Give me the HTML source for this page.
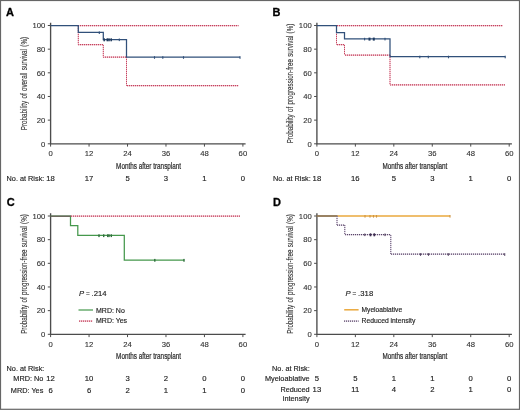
<!DOCTYPE html>
<html><head><meta charset="utf-8"><title>Figure</title>
<style>html,body{margin:0;padding:0;background:#fff;width:520px;height:410px;overflow:hidden}svg{display:block;will-change:transform}</style>
</head><body>
<svg width="520" height="410" viewBox="0 0 520 410">
<style>text{font-family:"Liberation Sans",sans-serif;fill:#222;stroke:#222;stroke-width:0.15px}.tk{font-size:7.7px;fill:#303030;stroke:#303030;stroke-width:0.1px}.ttl{font-size:8.9px;stroke-width:0.24px;fill:#2e2e2e;stroke:#2e2e2e}.yt{font-size:8.9px;stroke-width:0.12px;fill:#333;stroke:#333;word-spacing:0.8px}.lt{font-size:11px;font-weight:bold;fill:#000;stroke:#000;stroke-width:0.3px}.rk{font-size:7.3px}.rn{font-size:7.7px}.lg{font-size:7px}.pv{font-size:7.7px}</style>
<rect x="0" y="0" width="520" height="410" fill="#fff"/>
<rect x="0.5" y="0.5" width="519" height="408.8" fill="none" stroke="#666" stroke-width="1.2"/>
<text x="6.1" y="15.8" class="lt">A</text>
<text x="272.6" y="15.8" class="lt">B</text>
<text x="6.7" y="206.1" class="lt">C</text>
<text x="272.9" y="206.1" class="lt">D</text>
<g transform="translate(0,0)">
<path d="M50.6,22.8 V143.8 H245.6" fill="none" stroke="#4c4c4c" stroke-width="1.35"/>
<path d="M47.8,143.80 H50.6" stroke="#4c4c4c" stroke-width="1"/>
<text x="45.4" y="146.50" text-anchor="end" class="tk">0</text>
<path d="M47.8,120.14 H50.6" stroke="#4c4c4c" stroke-width="1"/>
<text x="45.4" y="122.84" text-anchor="end" class="tk">20</text>
<path d="M47.8,96.48 H50.6" stroke="#4c4c4c" stroke-width="1"/>
<text x="45.4" y="99.18" text-anchor="end" class="tk">40</text>
<path d="M47.8,72.82 H50.6" stroke="#4c4c4c" stroke-width="1"/>
<text x="45.4" y="75.52" text-anchor="end" class="tk">60</text>
<path d="M47.8,49.16 H50.6" stroke="#4c4c4c" stroke-width="1"/>
<text x="45.4" y="51.86" text-anchor="end" class="tk">80</text>
<path d="M47.8,25.50 H50.6" stroke="#4c4c4c" stroke-width="1"/>
<text x="45.4" y="28.20" text-anchor="end" class="tk">100</text>
<path d="M50.60,143.8 V146.6" stroke="#4c4c4c" stroke-width="1"/>
<text x="50.60" y="156.4" text-anchor="middle" class="tk">0</text>
<path d="M89.06,143.8 V146.6" stroke="#4c4c4c" stroke-width="1"/>
<text x="89.06" y="156.4" text-anchor="middle" class="tk">12</text>
<path d="M127.52,143.8 V146.6" stroke="#4c4c4c" stroke-width="1"/>
<text x="127.52" y="156.4" text-anchor="middle" class="tk">24</text>
<path d="M165.98,143.8 V146.6" stroke="#4c4c4c" stroke-width="1"/>
<text x="165.98" y="156.4" text-anchor="middle" class="tk">36</text>
<path d="M204.44,143.8 V146.6" stroke="#4c4c4c" stroke-width="1"/>
<text x="204.44" y="156.4" text-anchor="middle" class="tk">48</text>
<path d="M242.90,143.8 V146.6" stroke="#4c4c4c" stroke-width="1"/>
<text x="242.90" y="156.4" text-anchor="middle" class="tk">60</text>
<text x="148.6" y="168.8" text-anchor="middle" class="ttl" textLength="65" lengthAdjust="spacingAndGlyphs">Months after transplant</text>
<text transform="translate(26.8,83.55) rotate(-90)" x="0" y="0" text-anchor="middle" class="yt" textLength="93.2" lengthAdjust="spacingAndGlyphs">Probability of overall survival (%)</text>
</g>
<g transform="translate(266.3,0)">
<path d="M50.6,22.8 V143.8 H245.6" fill="none" stroke="#4c4c4c" stroke-width="1.35"/>
<path d="M47.8,143.80 H50.6" stroke="#4c4c4c" stroke-width="1"/>
<text x="45.4" y="146.50" text-anchor="end" class="tk">0</text>
<path d="M47.8,120.14 H50.6" stroke="#4c4c4c" stroke-width="1"/>
<text x="45.4" y="122.84" text-anchor="end" class="tk">20</text>
<path d="M47.8,96.48 H50.6" stroke="#4c4c4c" stroke-width="1"/>
<text x="45.4" y="99.18" text-anchor="end" class="tk">40</text>
<path d="M47.8,72.82 H50.6" stroke="#4c4c4c" stroke-width="1"/>
<text x="45.4" y="75.52" text-anchor="end" class="tk">60</text>
<path d="M47.8,49.16 H50.6" stroke="#4c4c4c" stroke-width="1"/>
<text x="45.4" y="51.86" text-anchor="end" class="tk">80</text>
<path d="M47.8,25.50 H50.6" stroke="#4c4c4c" stroke-width="1"/>
<text x="45.4" y="28.20" text-anchor="end" class="tk">100</text>
<path d="M50.60,143.8 V146.6" stroke="#4c4c4c" stroke-width="1"/>
<text x="50.60" y="156.4" text-anchor="middle" class="tk">0</text>
<path d="M89.06,143.8 V146.6" stroke="#4c4c4c" stroke-width="1"/>
<text x="89.06" y="156.4" text-anchor="middle" class="tk">12</text>
<path d="M127.52,143.8 V146.6" stroke="#4c4c4c" stroke-width="1"/>
<text x="127.52" y="156.4" text-anchor="middle" class="tk">24</text>
<path d="M165.98,143.8 V146.6" stroke="#4c4c4c" stroke-width="1"/>
<text x="165.98" y="156.4" text-anchor="middle" class="tk">36</text>
<path d="M204.44,143.8 V146.6" stroke="#4c4c4c" stroke-width="1"/>
<text x="204.44" y="156.4" text-anchor="middle" class="tk">48</text>
<path d="M242.90,143.8 V146.6" stroke="#4c4c4c" stroke-width="1"/>
<text x="242.90" y="156.4" text-anchor="middle" class="tk">60</text>
<text x="148.6" y="168.8" text-anchor="middle" class="ttl" textLength="65" lengthAdjust="spacingAndGlyphs">Months after transplant</text>
<text transform="translate(26.8,83.55) rotate(-90)" x="0" y="0" text-anchor="middle" class="yt" textLength="119.6" lengthAdjust="spacingAndGlyphs">Probability of progression-free survival (%)</text>
</g>
<g transform="translate(0,190.5)">
<path d="M50.6,22.8 V143.8 H245.6" fill="none" stroke="#4c4c4c" stroke-width="1.35"/>
<path d="M47.8,143.80 H50.6" stroke="#4c4c4c" stroke-width="1"/>
<text x="45.4" y="146.50" text-anchor="end" class="tk">0</text>
<path d="M47.8,120.14 H50.6" stroke="#4c4c4c" stroke-width="1"/>
<text x="45.4" y="122.84" text-anchor="end" class="tk">20</text>
<path d="M47.8,96.48 H50.6" stroke="#4c4c4c" stroke-width="1"/>
<text x="45.4" y="99.18" text-anchor="end" class="tk">40</text>
<path d="M47.8,72.82 H50.6" stroke="#4c4c4c" stroke-width="1"/>
<text x="45.4" y="75.52" text-anchor="end" class="tk">60</text>
<path d="M47.8,49.16 H50.6" stroke="#4c4c4c" stroke-width="1"/>
<text x="45.4" y="51.86" text-anchor="end" class="tk">80</text>
<path d="M47.8,25.50 H50.6" stroke="#4c4c4c" stroke-width="1"/>
<text x="45.4" y="28.20" text-anchor="end" class="tk">100</text>
<path d="M50.60,143.8 V146.6" stroke="#4c4c4c" stroke-width="1"/>
<text x="50.60" y="156.4" text-anchor="middle" class="tk">0</text>
<path d="M89.06,143.8 V146.6" stroke="#4c4c4c" stroke-width="1"/>
<text x="89.06" y="156.4" text-anchor="middle" class="tk">12</text>
<path d="M127.52,143.8 V146.6" stroke="#4c4c4c" stroke-width="1"/>
<text x="127.52" y="156.4" text-anchor="middle" class="tk">24</text>
<path d="M165.98,143.8 V146.6" stroke="#4c4c4c" stroke-width="1"/>
<text x="165.98" y="156.4" text-anchor="middle" class="tk">36</text>
<path d="M204.44,143.8 V146.6" stroke="#4c4c4c" stroke-width="1"/>
<text x="204.44" y="156.4" text-anchor="middle" class="tk">48</text>
<path d="M242.90,143.8 V146.6" stroke="#4c4c4c" stroke-width="1"/>
<text x="242.90" y="156.4" text-anchor="middle" class="tk">60</text>
<text x="148.6" y="168.8" text-anchor="middle" class="ttl" textLength="65" lengthAdjust="spacingAndGlyphs">Months after transplant</text>
<text transform="translate(26.8,83.55) rotate(-90)" x="0" y="0" text-anchor="middle" class="yt" textLength="119.6" lengthAdjust="spacingAndGlyphs">Probability of progression-free survival (%)</text>
</g>
<g transform="translate(266.3,190.5)">
<path d="M50.6,22.8 V143.8 H245.6" fill="none" stroke="#4c4c4c" stroke-width="1.35"/>
<path d="M47.8,143.80 H50.6" stroke="#4c4c4c" stroke-width="1"/>
<text x="45.4" y="146.50" text-anchor="end" class="tk">0</text>
<path d="M47.8,120.14 H50.6" stroke="#4c4c4c" stroke-width="1"/>
<text x="45.4" y="122.84" text-anchor="end" class="tk">20</text>
<path d="M47.8,96.48 H50.6" stroke="#4c4c4c" stroke-width="1"/>
<text x="45.4" y="99.18" text-anchor="end" class="tk">40</text>
<path d="M47.8,72.82 H50.6" stroke="#4c4c4c" stroke-width="1"/>
<text x="45.4" y="75.52" text-anchor="end" class="tk">60</text>
<path d="M47.8,49.16 H50.6" stroke="#4c4c4c" stroke-width="1"/>
<text x="45.4" y="51.86" text-anchor="end" class="tk">80</text>
<path d="M47.8,25.50 H50.6" stroke="#4c4c4c" stroke-width="1"/>
<text x="45.4" y="28.20" text-anchor="end" class="tk">100</text>
<path d="M50.60,143.8 V146.6" stroke="#4c4c4c" stroke-width="1"/>
<text x="50.60" y="156.4" text-anchor="middle" class="tk">0</text>
<path d="M89.06,143.8 V146.6" stroke="#4c4c4c" stroke-width="1"/>
<text x="89.06" y="156.4" text-anchor="middle" class="tk">12</text>
<path d="M127.52,143.8 V146.6" stroke="#4c4c4c" stroke-width="1"/>
<text x="127.52" y="156.4" text-anchor="middle" class="tk">24</text>
<path d="M165.98,143.8 V146.6" stroke="#4c4c4c" stroke-width="1"/>
<text x="165.98" y="156.4" text-anchor="middle" class="tk">36</text>
<path d="M204.44,143.8 V146.6" stroke="#4c4c4c" stroke-width="1"/>
<text x="204.44" y="156.4" text-anchor="middle" class="tk">48</text>
<path d="M242.90,143.8 V146.6" stroke="#4c4c4c" stroke-width="1"/>
<text x="242.90" y="156.4" text-anchor="middle" class="tk">60</text>
<text x="148.6" y="168.8" text-anchor="middle" class="ttl" textLength="65" lengthAdjust="spacingAndGlyphs">Months after transplant</text>
<text transform="translate(26.8,83.55) rotate(-90)" x="0" y="0" text-anchor="middle" class="yt" textLength="119.6" lengthAdjust="spacingAndGlyphs">Probability of progression-free survival (%)</text>
</g>
<path d="M78,25.6 H238.5" fill="none" stroke="#efb6c3" stroke-width="1.25"/><path d="M78,25.6 H238.5" fill="none" stroke="#c03e5a" stroke-width="1.25" stroke-dasharray="0.95 1.05"/>
<path d="M78,44.5 H103.3 M103,57.2 H126.5 M127,85.7 H238.5" fill="none" stroke="#efb6c3" stroke-width="1.25"/><path d="M78,44.5 H103.3 M103,57.2 H126.5 M127,85.7 H238.5" fill="none" stroke="#c03e5a" stroke-width="1.25" stroke-dasharray="0.95 1.05"/><path d="M78.3,26 V44.5 M103.3,45 V57.2 M126.5,57 V85.7" fill="none" stroke="#efb6c3" stroke-width="1.0"/><path d="M78.3,26 V44.5 M103.3,45 V57.2 M126.5,57 V85.7" fill="none" stroke="#c03e5a" stroke-width="1.0" stroke-dasharray="0.95 1.05"/>
<path d="M50.6,25.6 H78.3 V32.4 H103.3 V39.5 H126.5 V57.2 H240" fill="none" stroke="#31507a" stroke-width="1.25"/>
<rect x="98.75" y="31.40" width="1.1" height="2.6" fill="#31507a"/>
<rect x="118.75" y="38.50" width="1.1" height="2.6" fill="#31507a"/>
<rect x="153.95" y="56.20" width="1.1" height="2.6" fill="#31507a"/>
<rect x="162.25" y="56.20" width="1.1" height="2.6" fill="#31507a"/>
<rect x="182.95" y="56.20" width="1.1" height="2.6" fill="#31507a"/>
<rect x="239.45" y="56.20" width="1.1" height="2.6" fill="#31507a"/>
<rect x="103.45" y="38.30" width="1.5" height="3" fill="#1f3a5c"/>
<rect x="106.55" y="38.30" width="1.5" height="3" fill="#1f3a5c"/>
<rect x="108.25" y="38.30" width="1.5" height="3" fill="#1f3a5c"/>
<rect x="110.45" y="38.30" width="1.5" height="3" fill="#1f3a5c"/>
<path d="M337,25.5 H503" fill="none" stroke="#efb6c3" stroke-width="1.25"/><path d="M337,25.5 H503" fill="none" stroke="#c03e5a" stroke-width="1.25" stroke-dasharray="0.95 1.05"/>
<path d="M337,44.5 H344.5 M345,55 H390 M390,84.9 H505" fill="none" stroke="#efb6c3" stroke-width="1.25"/><path d="M337,44.5 H344.5 M345,55 H390 M390,84.9 H505" fill="none" stroke="#c03e5a" stroke-width="1.25" stroke-dasharray="0.95 1.05"/><path d="M336.5,26 V44.5 M344.5,45 V55 M390,55 V84.9" fill="none" stroke="#efb6c3" stroke-width="1.0"/><path d="M336.5,26 V44.5 M344.5,45 V55 M390,55 V84.9" fill="none" stroke="#c03e5a" stroke-width="1.0" stroke-dasharray="0.95 1.05"/>
<path d="M316.8,25.5 H336.5 V32.5 H344.5 V38.8 H390 V56.7 H505.2" fill="none" stroke="#31507a" stroke-width="1.25"/>
<rect x="364.05" y="37.80" width="1.1" height="2.6" fill="#31507a"/>
<rect x="384.45" y="37.80" width="1.1" height="2.6" fill="#31507a"/>
<rect x="419.25" y="55.70" width="1.1" height="2.6" fill="#31507a"/>
<rect x="427.75" y="55.70" width="1.1" height="2.6" fill="#31507a"/>
<rect x="447.95" y="55.70" width="1.1" height="2.6" fill="#31507a"/>
<rect x="504.65" y="55.70" width="1.1" height="2.6" fill="#31507a"/>
<rect x="368.50" y="37.60" width="2" height="3" fill="#1f3a60"/>
<rect x="372.80" y="37.60" width="2" height="3" fill="#1f3a60"/>
<path d="M50.6,216.2 H70.5 V225.7 H77.8 V235.4 H124.3 V260 H184" fill="none" stroke="#45984c" stroke-width="1.25"/>
<rect x="98.30" y="234.30" width="1.4" height="2.8" fill="#2f6e3c"/>
<rect x="103.00" y="234.30" width="1.4" height="2.8" fill="#2f6e3c"/>
<rect x="107.00" y="234.30" width="1.4" height="2.8" fill="#2f6e3c"/>
<rect x="108.30" y="234.30" width="1.4" height="2.8" fill="#2f6e3c"/>
<rect x="110.60" y="234.30" width="1.4" height="2.8" fill="#2f6e3c"/>
<rect x="154.10" y="258.90" width="1.4" height="2.8" fill="#2f6e3c"/>
<rect x="183.30" y="258.90" width="1.4" height="2.8" fill="#2f6e3c"/>
<path d="M71,216.2 H240" fill="none" stroke="#efb6c3" stroke-width="1.25"/><path d="M71,216.2 H240" fill="none" stroke="#c03e5a" stroke-width="1.25" stroke-dasharray="0.95 1.05"/>
<path d="M50.6,216.2 H71" fill="none" stroke="#6a605a" stroke-width="1.4"/>
<path d="M316.8,216 H450" fill="none" stroke="#eaa83c" stroke-width="1.5"/>
<rect x="364.45" y="215.00" width="1.1" height="2.6" fill="#cf9443"/>
<rect x="369.45" y="215.00" width="1.1" height="2.6" fill="#cf9443"/>
<rect x="372.95" y="215.00" width="1.1" height="2.6" fill="#cf9443"/>
<rect x="375.95" y="215.00" width="1.1" height="2.6" fill="#cf9443"/>
<rect x="449.45" y="215.00" width="1.1" height="2.6" fill="#cf9443"/>
<path d="M316.8,216 H337.5" fill="none" stroke="#6f6560" stroke-width="1.35"/>
<path d="M337,225 H344.8 M345,234.5 H390.8 M391,254.2 H504.7" fill="none" stroke="#ddd2e4" stroke-width="1.25"/><path d="M337,225 H344.8 M345,234.5 H390.8 M391,254.2 H504.7" fill="none" stroke="#524260" stroke-width="1.25" stroke-dasharray="0.95 1.05"/><path d="M337,216 V225 M344.8,225 V234.5 M390.8,235 V254.2" fill="none" stroke="#ddd2e4" stroke-width="1.0"/><path d="M337,216 V225 M344.8,225 V234.5 M390.8,235 V254.2" fill="none" stroke="#524260" stroke-width="1.0" stroke-dasharray="0.95 1.05"/>
<rect x="364.25" y="233.50" width="1.1" height="2.6" fill="#524260"/>
<rect x="384.45" y="233.50" width="1.1" height="2.6" fill="#524260"/>
<rect x="419.95" y="253.20" width="1.1" height="2.6" fill="#524260"/>
<rect x="427.95" y="253.20" width="1.1" height="2.6" fill="#524260"/>
<rect x="447.75" y="253.20" width="1.1" height="2.6" fill="#524260"/>
<rect x="504.15" y="253.20" width="1.1" height="2.6" fill="#524260"/>
<rect x="369.70" y="233.30" width="1.6" height="3" fill="#3e2e52"/>
<rect x="373.50" y="233.30" width="1.6" height="3" fill="#3e2e52"/>
<text x="79" y="295.7" class="pv" textLength="27.6"><tspan font-style="italic">P</tspan><tspan font-size="6.4px"> = </tspan><tspan>.214</tspan></text>
<path d="M78.5,310 H93" fill="none" stroke="#45984c" stroke-width="1.2"/>
<text x="96" y="312.5" class="lg">MRD: No</text>
<path d="M79,321 H92.5" fill="none" stroke="#efb6c3" stroke-width="1.25"/><path d="M79,321 H92.5" fill="none" stroke="#c03e5a" stroke-width="1.25" stroke-dasharray="0.95 1.05"/>
<text x="96" y="322.6" class="lg">MRD: Yes</text>
<text x="345.4" y="296" class="pv" textLength="27.8"><tspan font-style="italic">P</tspan><tspan font-size="6.4px"> = </tspan><tspan>.318</tspan></text>
<path d="M344.2,309.8 H358.6" fill="none" stroke="#eaa83c" stroke-width="1.5"/>
<text x="361.6" y="312.3" class="lg" textLength="40.5" lengthAdjust="spacingAndGlyphs">Myeloablative</text>
<path d="M344,321 H358.6" fill="none" stroke="#ddd2e4" stroke-width="1.25"/><path d="M344,321 H358.6" fill="none" stroke="#524260" stroke-width="1.25" stroke-dasharray="0.95 1.05"/>
<text x="361.6" y="322.6" class="lg" textLength="53.8" lengthAdjust="spacingAndGlyphs">Reduced intensity</text>
<text x="6.6" y="180.6" class="rk">No. at Risk:</text>
<text x="50.60" y="180.6" text-anchor="middle" class="rn">18</text>
<text x="89.06" y="180.6" text-anchor="middle" class="rn">17</text>
<text x="127.52" y="180.6" text-anchor="middle" class="rn">5</text>
<text x="165.98" y="180.6" text-anchor="middle" class="rn">3</text>
<text x="204.44" y="180.6" text-anchor="middle" class="rn">1</text>
<text x="242.90" y="180.6" text-anchor="middle" class="rn">0</text>
<text x="273" y="180.6" class="rk">No. at Risk:</text>
<text x="316.90" y="180.6" text-anchor="middle" class="rn">18</text>
<text x="355.36" y="180.6" text-anchor="middle" class="rn">16</text>
<text x="393.82" y="180.6" text-anchor="middle" class="rn">5</text>
<text x="432.28" y="180.6" text-anchor="middle" class="rn">3</text>
<text x="470.74" y="180.6" text-anchor="middle" class="rn">1</text>
<text x="509.20" y="180.6" text-anchor="middle" class="rn">0</text>
<text x="6.6" y="370.7" class="rk">No. at Risk:</text>
<text x="43.3" y="381.3" text-anchor="end" class="rk">MRD: No</text>
<text x="50.60" y="381.3" text-anchor="middle" class="rn">12</text>
<text x="89.06" y="381.3" text-anchor="middle" class="rn">10</text>
<text x="127.52" y="381.3" text-anchor="middle" class="rn">3</text>
<text x="165.98" y="381.3" text-anchor="middle" class="rn">2</text>
<text x="204.44" y="381.3" text-anchor="middle" class="rn">0</text>
<text x="242.90" y="381.3" text-anchor="middle" class="rn">0</text>
<text x="43.3" y="392.5" text-anchor="end" class="rk">MRD: Yes</text>
<text x="50.60" y="392.5" text-anchor="middle" class="rn">6</text>
<text x="89.06" y="392.5" text-anchor="middle" class="rn">6</text>
<text x="127.52" y="392.5" text-anchor="middle" class="rn">2</text>
<text x="165.98" y="392.5" text-anchor="middle" class="rn">1</text>
<text x="204.44" y="392.5" text-anchor="middle" class="rn">1</text>
<text x="242.90" y="392.5" text-anchor="middle" class="rn">0</text>
<text x="309.8" y="370.7" text-anchor="end" class="rk">No. at Risk:</text>
<text x="309.6" y="381.2" text-anchor="end" class="rk">Myeloablative</text>
<text x="316.90" y="381.2" text-anchor="middle" class="rn">5</text>
<text x="355.36" y="381.2" text-anchor="middle" class="rn">5</text>
<text x="393.82" y="381.2" text-anchor="middle" class="rn">1</text>
<text x="432.28" y="381.2" text-anchor="middle" class="rn">1</text>
<text x="470.74" y="381.2" text-anchor="middle" class="rn">0</text>
<text x="509.20" y="381.2" text-anchor="middle" class="rn">0</text>
<text x="309.6" y="392.2" text-anchor="end" class="rk">Reduced</text>
<text x="309.6" y="400.8" text-anchor="end" class="rk">intensity</text>
<text x="316.90" y="392.2" text-anchor="middle" class="rn">13</text>
<text x="355.36" y="392.2" text-anchor="middle" class="rn">11</text>
<text x="393.82" y="392.2" text-anchor="middle" class="rn">4</text>
<text x="432.28" y="392.2" text-anchor="middle" class="rn">2</text>
<text x="470.74" y="392.2" text-anchor="middle" class="rn">1</text>
<text x="509.20" y="392.2" text-anchor="middle" class="rn">0</text>
</svg>
</body></html>
